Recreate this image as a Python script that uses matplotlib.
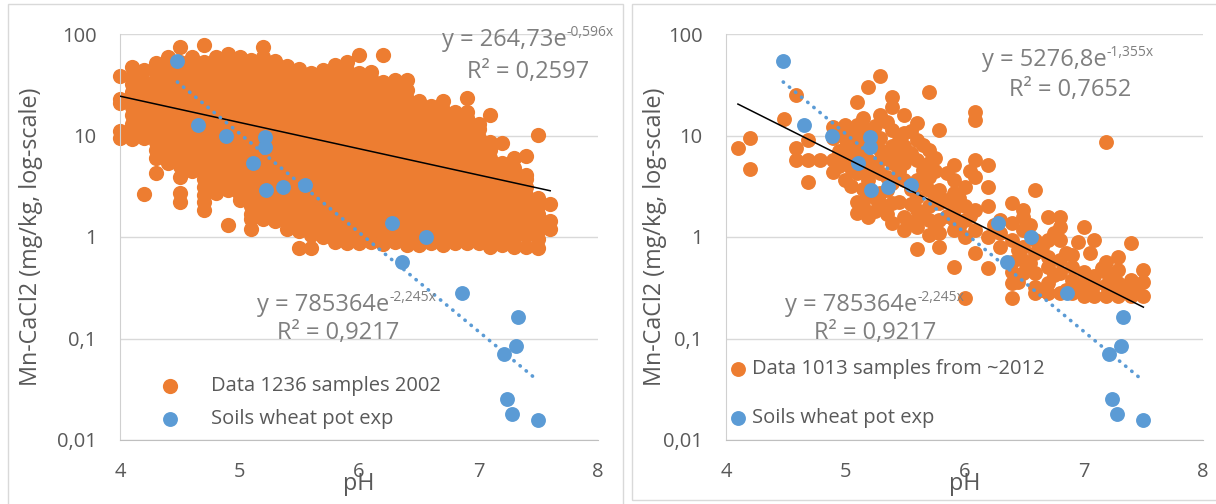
import numpy as np
import matplotlib.pyplot as plt
from matplotlib.patches import Rectangle
from matplotlib.ticker import NullLocator

plt.rcParams["font.family"] = ["Open Sans", "DejaVu Sans"]

ORANGE = "#ED7D31"
BLUE = "#5B9BD5"
GRID = "#D9D9D9"
TXT = "#595959"
EQ = "#7F7F7F"
FS = 14.5      # ticks and legend
FS_T = 16.8    # axis titles
FS_EQ = 17     # trendline labels

# soils of the wheat pot experiment (same in both panels)
pot_ph = [4.48, 4.65, 4.89, 5.21, 5.21, 5.11, 5.22, 5.36, 5.55, 6.28,
          6.56, 6.36, 6.86, 7.33, 7.31, 7.21, 7.24, 7.28, 7.50]
pot_mn = [54.2, 12.7, 9.9, 9.7, 7.7, 5.4, 2.9, 3.1, 3.25, 1.37,
          1.0, 0.57, 0.28, 0.163, 0.084, 0.070, 0.0254, 0.018, 0.0157]

survey02_ph = [4.0, 4.1, 4.2, 4.3, 4.4, 4.5, 4.6, 4.7, 4.8, 4.9,
               5.0, 5.1, 5.2, 5.3, 5.4, 5.5, 5.6, 5.7, 5.8, 5.9,
               6.0, 6.1, 6.2, 6.3, 6.4, 6.5, 6.6, 6.7, 6.8, 6.9,
               7.0, 7.1, 7.2, 7.3, 7.4, 7.5, 7.6]
survey02_mn = [
    [9.5, 11, 21, 23, 39],
    [9.2, 11, 13, 16, 19, 23, 27, 32, 38, 47],
    [2.65, 9.4, 11.3, 13.5, 16, 19.5, 23, 28, 34, 44],
    [4.3, 6.0, 7.2, 8.7, 10.5, 12.5, 15, 18, 22, 26, 31, 37, 44, 52],
    [5.4, 6.5, 7.8, 9.4, 11.3, 13.5, 16, 19.5, 23, 28, 34, 41, 49, 59],
    [2.2, 2.7, 3.9, 5.0, 6.0, 7.2, 8.7, 10.5, 12.5, 15, 18, 22, 26, 31, 37, 44, 53, 74],
    [4.5, 5.4, 6.5, 7.8, 9.4, 11.3, 13.5, 16, 19.5, 23, 28, 34, 41, 49, 59],
    [1.85, 2.2, 2.6, 3.1, 3.7, 4.2, 5.0, 6.0, 7.2, 8.7, 10.5, 12.5, 15, 18, 22, 26, 31, 37, 44, 53, 78],
    [2.7, 3.1, 3.7, 4.5, 5.4, 6.5, 7.8, 9.4, 11.3, 13.5, 16, 19.5, 23, 28, 34, 41, 49, 60],
    [1.3, 2.9, 3.5, 4.2, 5.0, 6.0, 7.2, 8.7, 10.5, 12.5, 15, 18, 22, 26, 31, 37, 44, 53, 64],
    [2.3, 2.6, 3.1, 3.7, 4.5, 5.4, 6.5, 7.8, 9.4, 11.3, 13.5, 16, 19.5, 23, 28, 34, 41, 49, 60],
    [1.2, 1.5, 1.7, 2.0, 2.4, 2.9, 3.5, 4.2, 5.0, 6.0, 7.2, 8.7, 10.5, 12.5, 15, 18, 22, 26, 31, 37, 44, 56],
    [1.5, 1.8, 2.2, 2.6, 3.1, 3.7, 4.5, 5.4, 6.5, 7.8, 9.4, 11.3, 13.5, 16, 19.5, 23, 28, 34, 41, 49, 60, 74],
    [1.45, 1.7, 2.0, 2.4, 2.9, 3.5, 4.2, 5.0, 6.0, 7.2, 8.7, 10.5, 12.5, 15, 18, 22, 26, 31, 37, 44, 54],
    [1.2, 1.5, 1.8, 2.2, 2.6, 3.1, 3.7, 4.5, 5.4, 6.5, 7.8, 9.4, 11.3, 13.5, 16, 19.5, 23, 28, 34, 41, 48],
    [0.78, 1.15, 1.4, 1.7, 2.0, 2.4, 2.9, 3.5, 4.2, 5.0, 6.0, 7.2, 8.7, 10.5, 12.5, 15, 18, 22, 26, 31, 37, 45],
    [0.78, 1.05, 1.25, 1.5, 1.8, 2.2, 2.6, 3.1, 3.7, 4.5, 5.4, 6.5, 7.8, 9.4, 11.3, 13.5, 16, 19.5, 23, 28, 34, 41],
    [1.0, 1.15, 1.4, 1.7, 2.0, 2.4, 2.9, 3.5, 4.2, 5.0, 6.0, 7.2, 8.7, 10.5, 12.5, 15, 18, 22, 26, 31, 37, 44],
    [0.9, 1.05, 1.25, 1.5, 1.8, 2.2, 2.6, 3.1, 3.7, 4.5, 5.4, 6.5, 7.8, 9.4, 11.3, 13.5, 16, 19.5, 23, 28, 34, 41, 49],
    [0.87, 1.0, 1.15, 1.4, 1.7, 2.0, 2.4, 2.9, 3.5, 4.2, 5.0, 6.0, 7.2, 8.7, 10.5, 12.5, 15, 18, 22, 26, 31, 37, 44, 53],
    [0.87, 1.05, 1.25, 1.5, 1.8, 2.2, 2.6, 3.1, 3.7, 4.5, 5.4, 6.5, 7.8, 9.4, 11.3, 13.5, 16, 19.5, 23, 28, 34, 41, 62],
    [0.9, 1.15, 1.4, 1.7, 2.0, 2.4, 2.9, 3.5, 4.2, 5.0, 6.0, 7.2, 8.7, 10.5, 12.5, 15, 18, 22, 26, 31, 37, 42],
    [0.85, 1.05, 1.25, 1.5, 1.8, 2.2, 2.6, 3.1, 3.7, 4.5, 5.4, 6.5, 7.8, 9.4, 11.3, 13.5, 16, 19.5, 23, 28, 34, 62],
    [0.9, 1.15, 1.4, 1.7, 2.0, 2.4, 2.9, 3.5, 4.2, 5.0, 6.0, 7.2, 8.7, 10.5, 12.5, 15, 18, 22, 26, 31, 35],
    [0.84, 1.05, 1.25, 1.5, 1.8, 2.2, 2.6, 3.1, 3.7, 4.5, 5.4, 6.5, 7.8, 9.4, 11.3, 13.5, 16, 19.5, 23, 28, 35],
    [0.84, 1.0, 1.15, 1.4, 1.7, 2.0, 2.4, 2.9, 3.5, 4.2, 5.0, 6.0, 7.2, 8.7, 10.5, 12.5, 15, 18, 22],
    [0.87, 1.05, 1.25, 1.5, 1.8, 2.2, 2.6, 3.1, 3.7, 4.5, 5.4, 6.5, 7.8, 9.4, 11.3, 13.5, 16, 19.5],
    [0.84, 1.0, 1.15, 1.4, 1.7, 2.0, 2.4, 2.9, 3.5, 4.2, 5.0, 6.0, 7.2, 8.7, 10.5, 12.5, 15, 18, 22],
    [0.87, 1.05, 1.25, 1.5, 1.8, 2.2, 2.6, 3.1, 3.7, 4.5, 5.4, 6.5, 7.8, 9.4, 11.3, 13.5, 17],
    [0.87, 1.0, 1.15, 1.4, 1.7, 2.0, 2.4, 2.9, 3.5, 4.2, 5.0, 6.0, 7.2, 8.7, 10.5, 12.5, 15, 17, 23.4],
    [0.87, 1.05, 1.25, 1.5, 1.8, 2.2, 2.6, 3.1, 3.7, 4.5, 5.4, 6.5, 7.8, 9.4, 11.5, 13],
    [0.8, 0.95, 1.15, 1.4, 1.7, 2.0, 2.4, 2.9, 3.5, 4.2, 5.0, 6.0, 7.2, 8.7, 15.9],
    [0.84, 1.05, 1.25, 1.5, 1.8, 2.2, 2.6, 3.1, 3.7, 4.5, 5.4, 8.4],
    [0.8, 0.95, 1.15, 1.4, 1.7, 2.0, 2.4, 2.9, 3.5, 4.2, 4.8, 6.0],
    [0.8, 1.05, 1.25, 1.5, 1.8, 2.2, 2.6, 3.1, 3.7, 4.1, 6.3],
    [0.78, 0.95, 1.15, 1.4, 1.7, 2.0, 2.4, 10.1],
    [1.2, 1.45, 2.1],
]

survey12_ph = [4.10, 4.20, 4.49, 4.59, 4.69, 4.79, 4.90, 4.95, 5.00, 5.05,
               5.10, 5.15, 5.19, 5.25, 5.29, 5.35, 5.39, 5.45, 5.49, 5.55,
               5.60, 5.65, 5.70, 5.75, 5.79, 5.85, 5.91, 5.95, 6.00, 6.05,
               6.09, 6.20, 6.25, 6.30, 6.40, 6.45, 6.49, 6.55, 6.59, 6.65,
               6.70, 6.75, 6.80, 6.85, 6.90, 6.95, 7.00, 7.05, 7.09, 7.15,
               7.19, 7.25, 7.29, 7.35, 7.40, 7.45, 7.50]
survey12_mn = [
    [7.5], [9.4, 4.65], [14.4], [25, 7.5, 5.7], [9.0, 5.7, 3.5], [5.7],
    [12.2, 9.4, 5.7, 4.4], [11, 7.0, 5.0], [12.7, 9.4, 7.5, 5.7, 3.65],
    [10.5, 6.5, 4.8, 3.2],
    [21.6, 12.7, 9.4, 7.8, 5.7, 4.24, 2.23, 1.71], [15, 10.5, 6.5, 3.0, 2.0],
    [30.2, 11.3, 7.8, 5.7, 4.24, 3.65, 2.6, 1.59], [12.5, 8.5, 4.8, 2.4, 1.8],
    [38.5, 15.9, 9.4, 7.2, 5.7, 4.24, 2.7, 2.15], [13.5, 6.5, 3.9, 2.9, 1.7],
    [24.1, 19.2, 11.3, 7.8, 5.3, 3.4, 2.15, 1.36], [9.0, 6.5, 4.5, 2.2],
    [15.9, 10.5, 7.8, 5.3, 3.65, 1.59, 1.17], [11, 6.8, 3.0, 2.1, 1.4],
    [13.2, 9.0, 5.7, 3.65, 2.5, 1.85, 1.26, 0.77], [8.0, 4.6, 3.3, 1.65],
    [27, 7.2, 5.3, 3.9, 2.9, 2.0, 1.47, 1.05], [6.0, 4.5, 2.5, 1.25],
    [11.3, 2.9, 2.15, 1.47, 1.09, 0.8], [4.3, 2.3, 1.6],
    [5.1, 3.65, 2.7, 1.85, 1.47, 1.17, 0.51], [2.4, 1.25],
    [3.1, 2.0, 1.47, 1.01, 0.25], [4.5, 1.6],
    [17.2, 14.2, 5.7, 3.9, 1.85, 1.17, 0.69],
    [5.1, 3.1, 2.0, 1.01, 0.49], [1.3],
    [1.47, 1.09, 0.8],
    [2.15, 1.36, 0.93, 0.57, 0.455, 0.35, 0.25], [0.75, 0.36],
    [1.85, 1.59, 1.17, 0.8, 0.59, 0.44], [1.3, 0.55],
    [2.9, 0.93, 0.69, 0.44, 0.32, 0.28], [0.8, 0.3],
    [1.59, 0.93, 0.64, 0.51, 0.35, 0.28], [1.1, 0.42],
    [1.59, 1.26, 0.93, 0.59, 0.44, 0.28], [0.7, 0.3],
    [0.67, 0.51, 0.38, 0.28], [0.9, 0.33],
    [1.26, 0.455, 0.35, 0.26], [0.7, 0.3],
    [0.93, 0.41, 0.34, 0.26], [0.5],
    [8.6, 0.57, 0.455, 0.34, 0.26], [0.4, 0.3],
    [0.64, 0.47, 0.35, 0.26], [0.32],
    [0.87, 0.38, 0.26], [0.3],
    [0.47, 0.36, 0.26],
]

# exponential trendlines y = a*exp(b*x) with R²
fit_2002 = (264.73, -0.596, 0.2597)
fit_2012 = (5276.8, -1.355, 0.7652)
fit_pot = (785364, -2.245, 0.9217)

legend_2002 = ["Data 1236 samples 2002", "Soils wheat pot exp"]
legend_2012 = ["Data 1013 samples from ~2012", "Soils wheat pot exp"]


def flatten(ph, cols):
    xs = [p for p, col in zip(ph, cols) for _ in col]
    ys = [v for col in cols for v in col]
    return xs, ys


x02, y02 = flatten(survey02_ph, survey02_mn)
x12, y12 = flatten(survey12_ph, survey12_mn)


def comma(v):
    return f"{v:g}".replace(".", ",")


def trend(ax, xs, fit, **kw):
    a, b, _ = fit
    xx = np.linspace(min(xs), max(xs), 200)
    ax.plot(xx, a * np.exp(b * xx), zorder=4, **kw)


def equation(ax, x, y, fit):
    a, b, r2 = fit
    t = ax.text(x, y, "y = " + comma(a) + "e", transform=ax.transAxes,
                ha="left", va="center", fontsize=FS_EQ, color=EQ, zorder=6)
    ax.annotate(comma(b) + "x", xy=(1, 0.5), xycoords=t, fontsize=10,
                color=EQ, ha="left", va="bottom", zorder=6)


def r2_text(ax, x, y, fit):
    ax.text(x, y, "R² = " + f"{fit[2]:.4f}".replace(".", ","),
            transform=ax.transAxes, ha="center", va="center",
            fontsize=FS_EQ, color=EQ, zorder=6)


def style(ax, ylab_x):
    ax.set_yscale("log")
    ax.set_xlim(4, 8)
    ax.set_ylim(0.01, 100)
    ax.set_xticks([4, 5, 6, 7, 8])
    ax.set_yticks([0.01, 0.1, 1, 10, 100])
    ax.set_yticklabels(["0,01", "0,1", "1", "10", "100"])
    ax.yaxis.set_minor_locator(NullLocator())
    ax.tick_params(length=0, labelsize=FS, labelcolor=TXT)
    ax.tick_params(axis="x", pad=16)
    ax.tick_params(axis="y", pad=17)
    ax.grid(axis="y", color=GRID, lw=1)
    ax.set_axisbelow(True)
    for s in ["top", "right"]:
        ax.spines[s].set_visible(False)
    ax.spines["left"].set_color("#D0D0D0")
    ax.spines["bottom"].set_color("#BFBFBF")
    ax.set_xlabel("pH", fontsize=FS_T, color=TXT)
    ax.xaxis.set_label_coords(0.5, -0.08)
    ax.set_ylabel("Mn-CaCl2 (mg/kg, log-scale)", fontsize=FS_T, color=TXT)
    ax.yaxis.set_label_coords(ylab_x, 0.5)


fig = plt.figure(figsize=(12.16, 5.04), dpi=100)
fig.patch.set_facecolor("white")

# chart area frames
fig.patches.append(Rectangle((8 / 1216, -0.02), 615 / 1216, 1.02 - 4 / 504,
                             transform=fig.transFigure, fill=False,
                             ec=GRID, lw=1))
fig.patches.append(Rectangle((632 / 1216, 1 - 500 / 504), 600 / 1216, 496 / 504,
                             transform=fig.transFigure, fill=False,
                             ec=GRID, lw=1))

ax1 = fig.add_axes([120 / 1216, 1 - 440 / 504, 478 / 1216, 406 / 504])
ax2 = fig.add_axes([726 / 1216, 1 - 440 / 504, 477 / 1216, 406 / 504])

# ---- left: 2002 survey
o1 = ax1.scatter(x02, y02, s=120, color=ORANGE, lw=0, zorder=2, clip_on=False)
b1 = ax1.scatter(pot_ph, pot_mn, s=115, color=BLUE, lw=0, zorder=3, clip_on=False)
trend(ax1, x02, fit_2002, color="black", lw=1.1)
trend(ax1, pot_ph, fit_pot, color=BLUE, lw=2.6, ls=(0, (0.1, 2.1)),
      dash_capstyle="round")
style(ax1, -0.161)
equation(ax1, 0.674, 0.985, fit_2002)
r2_text(ax1, 0.854, 0.906, fit_2002)
equation(ax1, 0.287, 0.333, fit_pot)
r2_text(ax1, 0.456, 0.264, fit_pot)
ax1.legend([o1, b1], legend_2002, loc="center left",
           bbox_to_anchor=(0.0837, 0.092), frameon=False, fontsize=FS,
           labelcolor=TXT, handlelength=1.0, handletextpad=1.54,
           labelspacing=0.66, borderpad=0, borderaxespad=0, scatterpoints=1)

# ---- right: ~2012 survey
o2 = ax2.scatter(x12, y12, s=115, color=ORANGE, lw=0, zorder=2, clip_on=False)
b2 = ax2.scatter(pot_ph, pot_mn, s=115, color=BLUE, lw=0, zorder=3, clip_on=False)
trend(ax2, x12, fit_2012, color="black", lw=1.1)
trend(ax2, pot_ph, fit_pot, color=BLUE, lw=2.6, ls=(0, (0.1, 2.1)),
      dash_capstyle="round")
style(ax2, -0.124)
equation(ax2, 0.537, 0.936, fit_2012)
r2_text(ax2, 0.721, 0.862, fit_2012)
equation(ax2, 0.124, 0.333, fit_pot)
r2_text(ax2, 0.312, 0.264, fit_pot)
ax2.legend([o2, b2], legend_2012, loc="center left",
           bbox_to_anchor=(0.0042, 0.1145), frameon=False, fontsize=FS,
           labelcolor=TXT, handlelength=1.0, handletextpad=0.19,
           labelspacing=1.45, borderpad=0, borderaxespad=0, scatterpoints=1)

fig.savefig("out.png", dpi=100, facecolor="white")
